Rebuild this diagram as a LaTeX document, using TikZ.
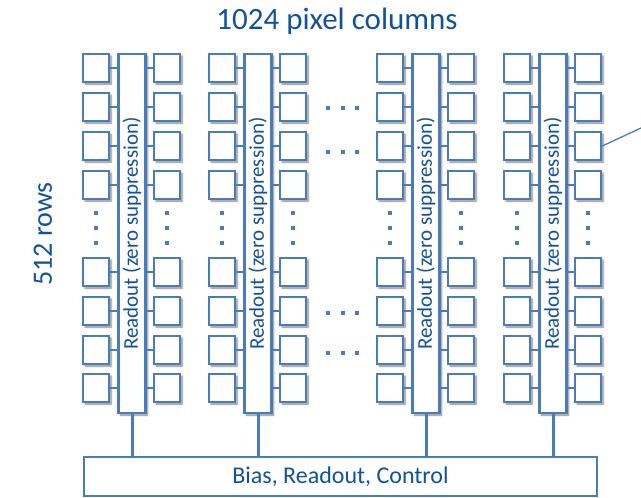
\documentclass[tikz,border=0pt]{standalone}
\usepackage{fontspec}
\setmainfont{Carlito}
\usetikzlibrary{shadows.blur}
\definecolor{boxblue}{RGB}{74,124,186}
\definecolor{txtblue}{RGB}{18,82,152}

\begin{document}
\begin{tikzpicture}[x=1pt, y=-1pt,
  shade/.style = {blur shadow={shadow xshift=2pt, shadow yshift=-2pt, shadow blur steps=6, shadow opacity=50}},
  pix/.style = {draw=boxblue, line width=2.5pt, fill=white, minimum width=26pt, minimum height=28pt, inner sep=0pt, shade},
  strip/.style = {draw=boxblue, line width=2.5pt, fill=white, minimum width=27pt, minimum height=359pt, inner sep=0pt, shade},
  bus/.style = {draw=boxblue, line width=1.8pt, fill=white, minimum width=513pt, minimum height=39pt, inner sep=0pt},
  wire/.style = {draw=boxblue, line width=1.6pt},
  stem/.style = {draw=boxblue, line width=3pt},
  dot/.style = {fill=boxblue, rectangle, inner sep=0pt, minimum size=3.6pt},
  lbl/.style = {text=txtblue}]
\useasboundingbox (0,0) rectangle (641,498);

% titles
\node[lbl, anchor=base] (cols) at (337,29) {\fontsize{31}{36}\selectfont 1024 pixel columns};
\node[lbl, anchor=base, rotate=90] (rows) at (52,234) {\fontsize{28}{32}\selectfont 512 rows};

% periphery
\node[bus, lbl] (ctrl) at (340.5,476.5) {\fontsize{24}{28}\selectfont Bias, Readout, Control};

% double columns
\foreach \g/\cx in {1/132, 2/258, 3/426, 4/553} {
  \node[strip, label={[lbl, rotate=90]center:\fontsize{21}{24}\selectfont Readout (zero suppression)}] (s\g) at (\cx,233.5) {};
  \draw[stem] (s\g.south) -- (s\g.south |- ctrl.north);
  \foreach \r/\cy in {1/68, 2/107, 3/146, 4/185, 5/272, 6/311, 7/350, 8/388} {
    \node[pix] (l\g\r) at (\cx-36,\cy) {};
    \node[pix] (r\g\r) at (\cx+35,\cy) {};
    \draw[wire] (l\g\r.east) -- (l\g\r.east -| s\g.west);
    \draw[wire] (r\g\r.west) -- (r\g\r.west -| s\g.east);
  }
  \foreach \dy in {213, 228, 243} {
    \node[dot] at (\cx-36,\dy) {};
    \node[dot] at (\cx+35,\dy) {};
  }
}

% skipped columns
\foreach \dy in {108, 152, 313, 353}
  \foreach \dx in {328, 343, 357}
    \node[dot] at (\dx,\dy) {};

% pointer to pixel
\coordinate (zoomout) at (641,128);
\draw[boxblue, line width=1.3pt] (r43.east) -- (zoomout);

\end{tikzpicture}
\end{document}
